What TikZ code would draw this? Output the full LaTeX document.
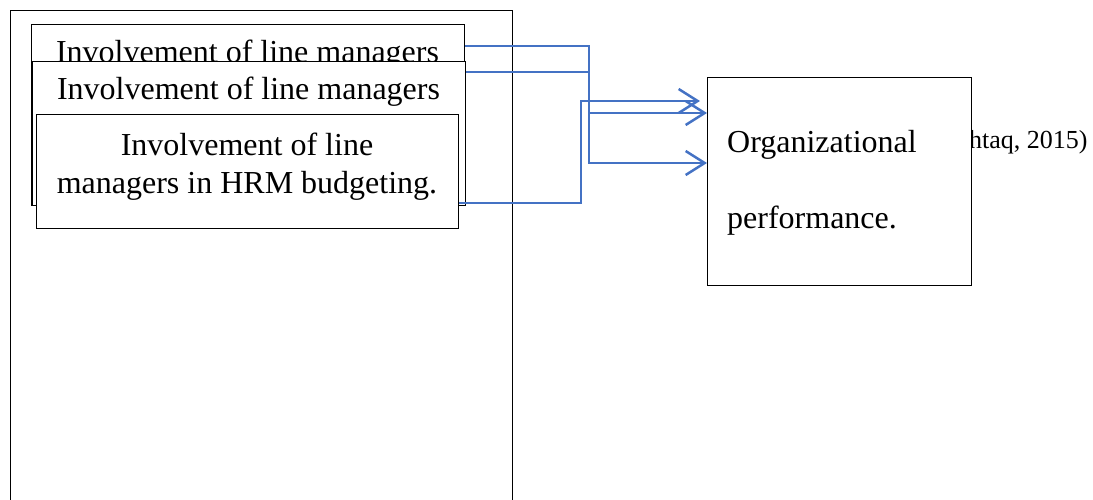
\documentclass[tikz,border=0pt]{standalone}
\usepackage{fontspec}
\setmainfont{Liberation Serif}
\usetikzlibrary{arrows.meta,calc}
\definecolor{lnblue}{RGB}{68,114,196}
\tikzset{
  boxn/.style={draw=black, line width=1pt, fill=white, inner sep=0pt, anchor=north west},
  bigtxt/.style={font=\fontsize{32}{39}\selectfont, inner sep=0pt, anchor=base},
  citetxt/.style={font=\fontsize{26}{30}\selectfont, inner sep=0pt, anchor=base west},
  conn/.style={draw=lnblue, line width=2.5pt},
  tipped/.style={conn, -{Straight Barb[length=19pt,width=24pt,line width=2.5pt]}}
}
\begin{document}
\begin{tikzpicture}[x=1pt,y=-1pt]
\useasboundingbox (0,0) rectangle (1093,499);
\begin{scope}
  \clip (0,0) rectangle (1093,499);
  \node[boxn, minimum width=502pt, minimum height=530pt] (frame) at (10,10) {};
\end{scope}
% stacked boxes
\node[boxn, minimum width=433pt, minimum height=181pt] (b1) at (31,24) {};
\node[bigtxt] (t1) at (247.5,62) {Involvement of line managers};
\node[boxn, minimum width=433pt, minimum height=144pt] (b2) at (32,61) {};
\node[bigtxt] (t2) at (248.5,99) {Involvement of line managers};
\node[boxn, minimum width=422pt, minimum height=114pt] (b3) at (36,114) {};
\node[bigtxt] (t3a) at (247,155) {Involvement of line};
\node[bigtxt] (t3b) at (247,193) {managers in HRM budgeting.};
% citation and outcome box
\node[citetxt] (cite) at (969,148) {htaq, 2015)};
\node[boxn, minimum width=264pt, minimum height=208pt] (org) at (707,77) {};
\node[bigtxt, anchor=base west] (o1) at (727,152) {Organizational};
\node[bigtxt, anchor=base west] (o2) at (727,228) {performance.};
% connectors
\coordinate (y1) at (0,46);
\coordinate (y2) at (0,72);
\coordinate (ya) at (0,113);
\coordinate (yb) at (0,163);
\coordinate (y3) at (0,203);
\coordinate (yc) at (0,101);
\coordinate (bus) at (589,0);
\coordinate (bus2) at (581,0);
\draw[tipped] (b1.east |- y1) -| (bus |- yb) -- (org.west |- yb);
\draw[conn] (b2.east |- y2) -- (bus |- y2);
\draw[tipped] (bus |- ya) -- (org.west |- ya);
\draw[tipped] (b3.east |- y3) -| (bus2 |- yc) -- ($(org.west |- yc)+(-7,0)$);
\end{tikzpicture}
\end{document}
